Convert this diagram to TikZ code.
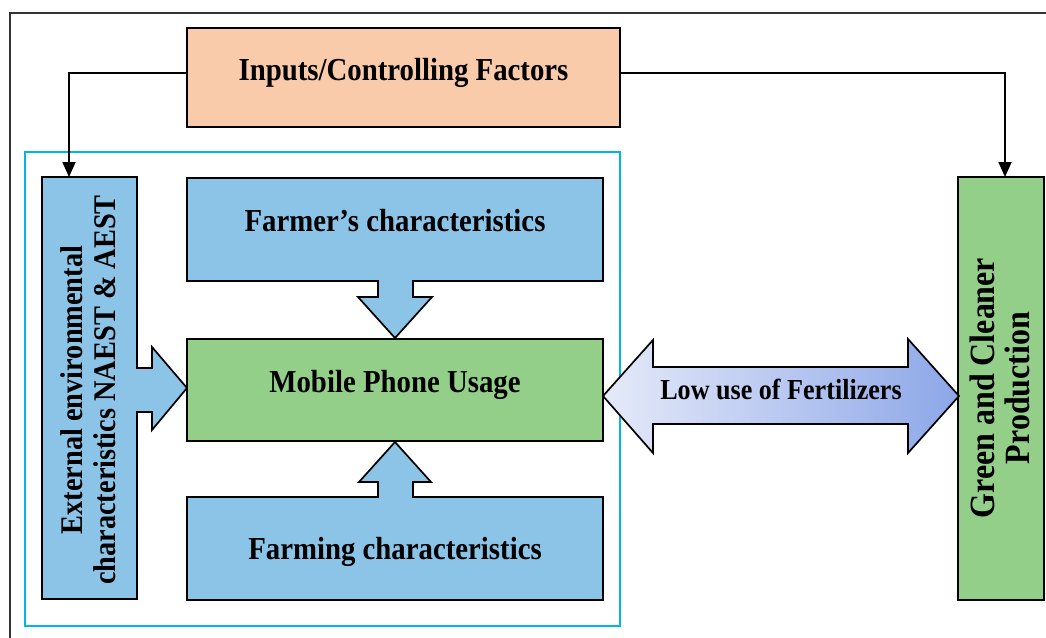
\documentclass[tikz,border=0pt]{standalone}
\usepackage{fontspec}
\setmainfont{Liberation Serif}[FakeStretch=0.9]
\usetikzlibrary{arrows.meta,calc}
\definecolor{peach}{HTML}{F9CBAA}
\definecolor{skyb}{HTML}{8CC4E8}
\definecolor{leaf}{HTML}{94CF89}
\definecolor{cyanframe}{HTML}{00B4EE}
\definecolor{lavl}{HTML}{E6EAF9}
\definecolor{lavr}{HTML}{8CA7E8}
\definecolor{frameg}{HTML}{333333}
\begin{document}
\begin{tikzpicture}[x=1pt,y=-1pt,
  shapeline/.style={draw=black,line width=1.7pt,line join=miter},
  anchorbox/.style={draw=none,inner sep=0pt,outer sep=0pt},
  lbl/.style={inner sep=0pt,anchor=base,font=\bfseries\fontsize{32}{36}\selectfont},
  conn/.style={line width=1.8pt,-{Triangle[width=13pt,length=15pt]}}]
\useasboundingbox (0,0) rectangle (1046,637);
% outer frame
\draw[frameg,line width=1.5pt] (10,640) -- (10,13) -- (1050,13);
% inner cyan frame
\draw[cyanframe,line width=2pt] (25,152) rectangle (620,626);
% anchor nodes for boxes
\node[anchorbox,minimum width=433pt,minimum height=99pt] (in) at (403.5,77.5) {};
\node[anchorbox,minimum width=95pt,minimum height=422pt] (ext) at (89.5,388) {};
\node[anchorbox,minimum width=416pt,minimum height=103pt] (farmer) at (395,229.5) {};
\node[anchorbox,minimum width=416pt,minimum height=102pt] (mob) at (395,390) {};
\node[anchorbox,minimum width=416pt,minimum height=103pt] (farming) at (395,548.5) {};
\node[anchorbox,minimum width=86pt,minimum height=423pt] (gcp) at (1001,388.5) {};
% inputs box
\draw[shapeline,fill=peach] (in.north west) rectangle (in.south east);
% external box with right block arrow
\draw[shapeline,fill=skyb] (42,177) -- (137,177) -- (137,368) -- (152,368) -- (152,347)
  -- (187,388) -- (152,430) -- (152,412) -- (137,412) -- (137,599) -- (42,599) -- cycle;
% farmer box with down block arrow
\draw[shapeline,fill=skyb] (187,178) -- (603,178) -- (603,281) -- (413,281) -- (413,297)
  -- (432,297) -- (395,338) -- (358,297) -- (378,297) -- (378,281) -- (187,281) -- cycle;
% farming box with up block arrow
\draw[shapeline,fill=skyb] (187,497) -- (378,497) -- (378,482) -- (359,482) -- (395,442)
  -- (431,482) -- (413,482) -- (413,497) -- (603,497) -- (603,600) -- (187,600) -- cycle;
% mobile box
\draw[shapeline,fill=leaf] (mob.north west) rectangle (mob.south east);
% green box
\draw[shapeline,fill=leaf] (gcp.north west) rectangle (gcp.south east);
% double arrow
\draw[shapeline,left color=lavl,right color=lavr] (603,396) -- (653,340) -- (653,367)
  -- (908,367) -- (908,339) -- (959,396) -- (908,453) -- (908,424) -- (653,424)
  -- (653,453) -- cycle;
% texts
\node[lbl] (intxt) at (403.5,80) {Inputs/Controlling Factors};
\node[lbl] (farmertxt) at (395,231) {Farmer’s characteristics};
\node[lbl] (mobtxt) at (395,392) {Mobile Phone Usage};
\node[lbl] (farmingtxt) at (395,559) {Farming characteristics};
\node[lbl,font=\bfseries\fontsize{29}{33}\selectfont] (lowtxt) at (781,399) {Low use of Fertilizers};
\node[inner sep=0pt,font=\bfseries\fontsize{31.5}{33}\selectfont] (exttxt) at (92,390)
  {\rotatebox{90}{\begin{tabular}{@{}c@{}}External environmental\\characteristics NAEST \& AEST\end{tabular}}};
\node[inner sep=0pt,font=\bfseries\fontsize{35.5}{35}\selectfont] (gcptxt) at (1005,388)
  {\rotatebox{90}{\begin{tabular}{@{}c@{}}Green and Cleaner\\Production\end{tabular}}};
% connectors
\draw[conn] ([yshift=4.5pt]in.west) -| ([xshift=-20.5pt]ext.north);
\draw[conn] ([yshift=4.5pt]in.east) -| ([xshift=4pt]gcp.north);
\end{tikzpicture}
\end{document}
